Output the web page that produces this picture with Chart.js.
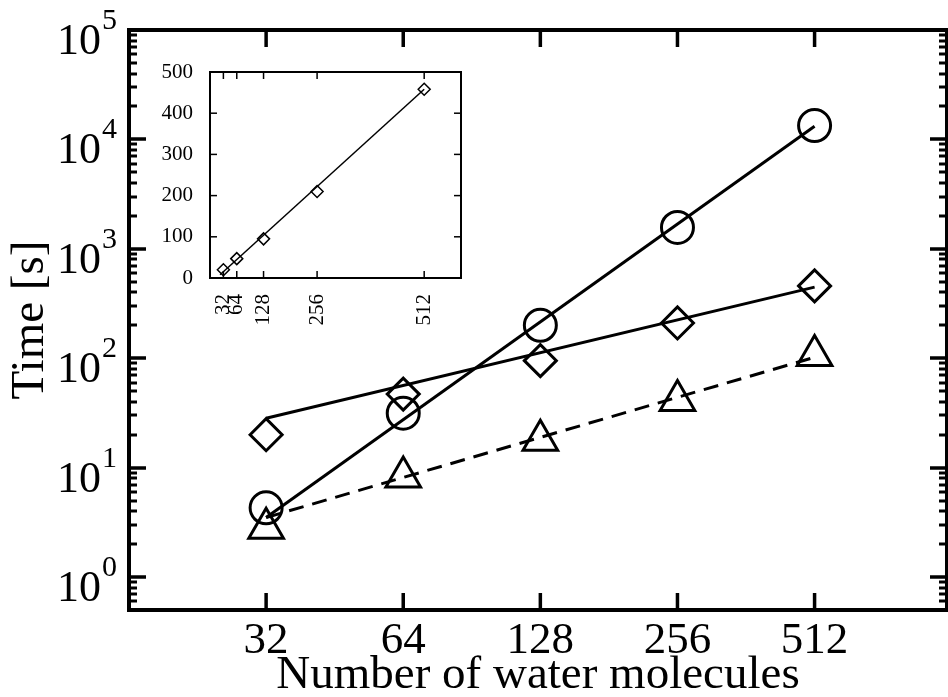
<!DOCTYPE html>
<html>
<head>
<meta charset="utf-8">
<script src="https://cdn.jsdelivr.net/npm/chart.js@4.4.0/dist/chart.umd.min.js"></script>
<style>
  html, body { margin: 0; padding: 0; background: #fff; }
  #wrap { position: relative; width: 948px; height: 697px; overflow: hidden; }
  #main { position: absolute; left: 0; top: 0; }
  #inset { position: absolute; left: 150px; top: 55px; }
</style>
</head>
<body>
<div id="wrap">
  <canvas id="main" width="948" height="697"></canvas>
  <canvas id="inset" width="320" height="285"></canvas>
</div>
<script>
// data
const molecules = [32, 64, 128, 256, 512];
const timeCircle = [4.3, 31.5, 200, 1570, 13400];
const timeDiamond = [20, 47, 95, 210, 458];
const timeTriangle = [2.8, 8.2, 17.8, 41, 106];

// fit lines (end points)
const fitX = [32, 512];
const fitCircle = [3.5, 13200];
const fitDiamond = [28.3, 447];
const fitTriangle = [3.5, 102];
const insetFitX = [24, 512];
const insetFitY = [8, 458];

// tick labels
const yExponents = [0, 1, 2, 3, 4, 5];
const insetYTicks = [0, 100, 200, 300, 400, 500];

const serif = "'Liberation Serif', 'Times New Roman', serif";

function pts(xs, ys) {
    return xs.map((x, i) => ({ x: x, y: ys[i] }));
}

function seg(ctx, x1, y1, x2, y2) {
    ctx.beginPath();
    ctx.moveTo(x1, y1);
    ctx.lineTo(x2, y2);
    ctx.stroke();
}

// box, inward ticks and 10^n labels of the big plot
const mainFrame = {
    id: 'mainFrame',
    beforeDatasetsDraw(chart) {
        const { ctx, chartArea: a, scales: { x, y } } = chart;
        ctx.save();
        ctx.strokeStyle = '#000';
        ctx.lineWidth = 3.5;
        molecules.forEach(v => {
            const px = x.getPixelForValue(v);
            seg(ctx, px, a.bottom, px, a.bottom - 17);
            seg(ctx, px, a.top, px, a.top + 17);
        });
        for (let e = -1; e <= 5; e++) {
            for (let m = 1; m <= 9; m++) {
                const v = m * Math.pow(10, e);
                if (v < 0.5 || v > 1e5) continue;
                const py = Math.round(y.getPixelForValue(v));
                const len = m === 1 ? 17 : 8;
                ctx.lineWidth = m === 1 ? 3.5 : 3;
                seg(ctx, a.left, py, a.left + len, py);
                seg(ctx, a.right, py, a.right - len, py);
            }
        }
        ctx.lineWidth = 4;
        ctx.strokeRect(a.left, a.top, a.right - a.left, a.bottom - a.top);
        ctx.restore();
    },
    afterDraw(chart) {
        const { ctx, scales: { y } } = chart;
        ctx.save();
        ctx.fillStyle = '#000';
        ctx.textBaseline = 'alphabetic';
        yExponents.forEach(n => {
            const py = y.getPixelForValue(Math.pow(10, n));
            ctx.font = '44px ' + serif;
            ctx.textAlign = 'right';
            ctx.fillText('10', 101, py + 24);
            ctx.font = '30px ' + serif;
            ctx.textAlign = 'left';
            ctx.fillText(String(n), 102, py - 1);
        });
        ctx.restore();
    }
};

const insetFrame = {
    id: 'insetFrame',
    beforeDatasetsDraw(chart) {
        const { ctx, chartArea: a, scales: { x, y } } = chart;
        ctx.save();
        ctx.strokeStyle = '#000';
        ctx.lineWidth = 1.5;
        molecules.forEach(v => {
            const px = x.getPixelForValue(v);
            seg(ctx, px, a.bottom, px, a.bottom - 7);
            seg(ctx, px, a.top, px, a.top + 7);
        });
        insetYTicks.forEach(v => {
            const py = y.getPixelForValue(v);
            seg(ctx, a.left, py, a.left + 7, py);
            seg(ctx, a.right, py, a.right - 7, py);
        });
        ctx.lineWidth = 2;
        ctx.strokeRect(a.left, a.top, a.right - a.left, a.bottom - a.top);
        ctx.restore();
    }
};

const lineSet = (xs, ys, dash) => ({
    data: pts(xs, ys),
    showLine: true,
    borderColor: '#000',
    borderWidth: 3,
    borderDash: dash || [],
    pointRadius: 0
});

const markSet = (ys, style, r) => ({
    data: pts(molecules, ys),
    showLine: false,
    pointStyle: style,
    pointRadius: r,
    pointBorderWidth: 3,
    pointBorderColor: '#000',
    pointBackgroundColor: 'rgba(0,0,0,0)'
});

new Chart(document.getElementById('main'), {
    type: 'scatter',
    data: {
        datasets: [
            lineSet(fitX, fitCircle),
            lineSet(fitX, fitDiamond),
            lineSet(fitX, fitTriangle, [15, 9]),
            markSet(timeCircle, 'circle', 16),
            markSet(timeDiamond, 'rectRot', 16),
            markSet(timeTriangle, 'triangle', 20)
        ]
    },
    options: {
        responsive: false,
        animation: false,
        layout: { autoPadding: false, padding: { top: 30, right: 1, left: 0, bottom: 0 } },
        plugins: { legend: { display: false }, tooltip: { enabled: false } },
        scales: {
            x: {
                type: 'logarithmic',
                min: 16,
                max: 1000,
                grid: { display: false },
                border: { display: false },
                afterBuildTicks: s => { s.ticks = molecules.map(v => ({ value: v })); },
                afterFit: s => { s.height = 87; s.paddingLeft = 0; s.paddingRight = 0; },
                ticks: {
                    color: '#000',
                    font: { family: serif, size: 45, lineHeight: 1 },
                    padding: 1,
                    maxRotation: 0,
                    autoSkip: false,
                    callback: v => String(v)
                },
                title: {
                    display: true,
                    text: 'Number of water molecules',
                    color: '#000',
                    font: { family: serif, size: 47, lineHeight: 0.9 },
                    padding: 0
                }
            },
            y: {
                type: 'logarithmic',
                min: 0.5,
                max: 1e5,
                grid: { display: false },
                border: { display: false },
                ticks: { display: false },
                afterFit: s => { s.width = 129; s.paddingTop = 0; s.paddingBottom = 0; },
                title: {
                    display: true,
                    text: 'Time [s]',
                    color: '#000',
                    font: { family: serif, size: 47, lineHeight: 1.3 },
                    padding: 0
                }
            }
        }
    },
    plugins: [mainFrame]
});

new Chart(document.getElementById('inset'), {
    type: 'scatter',
    data: {
        datasets: [
            {
                data: pts(insetFitX, insetFitY),
                showLine: true,
                borderColor: '#000',
                borderWidth: 1.5,
                pointRadius: 0
            },
            {
                data: pts(molecules, timeDiamond),
                showLine: false,
                pointStyle: 'rectRot',
                pointRadius: 6,
                pointBorderWidth: 1.5,
                pointBorderColor: '#000',
                pointBackgroundColor: 'rgba(0,0,0,0)'
            }
        ]
    },
    options: {
        responsive: false,
        animation: false,
        layout: { autoPadding: false, padding: { top: 17, right: 9, left: 0, bottom: 0 } },
        plugins: { legend: { display: false }, tooltip: { enabled: false } },
        scales: {
            x: {
                type: 'linear',
                min: 0,
                max: 600,
                grid: { display: false },
                border: { display: false },
                afterBuildTicks: s => { s.ticks = molecules.map(v => ({ value: v })); },
                afterFit: s => { s.height = 62; s.paddingLeft = 0; s.paddingRight = 0; },
                ticks: {
                    color: '#000',
                    font: { family: serif, size: 21, lineHeight: 1 },
                    padding: 8,
                    minRotation: 90,
                    maxRotation: 90,
                    autoSkip: false,
                    callback: v => String(v)
                }
            },
            y: {
                type: 'linear',
                min: 0,
                max: 500,
                grid: { display: false },
                border: { display: false },
                afterBuildTicks: s => { s.ticks = insetYTicks.map(v => ({ value: v })); },
                afterFit: s => { s.width = 60; s.paddingTop = 0; s.paddingBottom = 0; },
                ticks: {
                    color: '#000',
                    font: { family: serif, size: 21, lineHeight: 1 },
                    padding: 9,
                    callback: v => String(v)
                }
            }
        }
    },
    plugins: [insetFrame]
});
</script>
</body>
</html>
